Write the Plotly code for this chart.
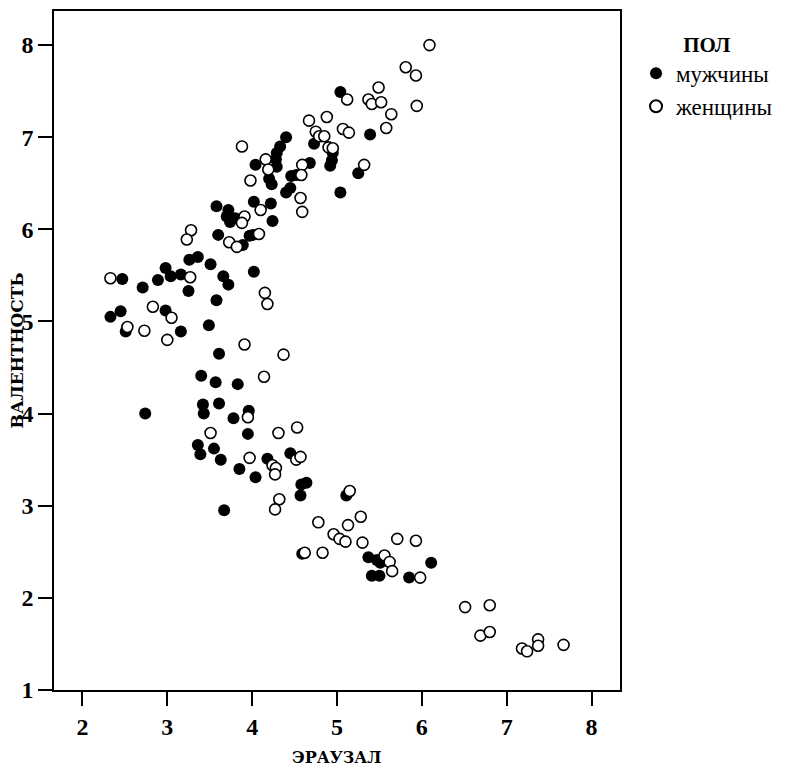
import plotly.graph_objects as go

# ЭРАУЗАЛ (x) / ВАЛЕНТНОСТЬ (y) — мужчины
men_x = [5.04, 5.39, 4.40, 4.73, 4.95, 4.94, 4.92, 4.68, 4.46, 4.52,
         4.40, 4.45, 5.04, 5.25,
         4.33, 4.29, 4.28, 4.29, 4.04, 4.20, 4.23,
         3.58, 3.72, 3.70, 3.74, 3.80, 4.02, 4.22, 4.24,
         3.60, 3.89, 3.97, 4.01,
         3.26, 3.36, 3.51, 2.98, 2.89, 3.04, 3.16, 3.25, 3.66, 3.72, 4.02, 3.58,
         2.47, 2.71, 2.33, 2.45, 2.98, 2.51, 3.16, 3.49,
         3.61, 3.40, 3.57, 3.83, 3.42, 3.43, 3.61, 3.78, 3.96, 3.95, 2.74,
         3.36, 3.39, 3.55, 3.63, 3.85, 4.04, 4.18, 4.45, 4.58, 4.64, 4.57, 3.67, 5.11,
         4.59, 5.37, 5.47, 5.51, 5.41, 5.50, 5.85, 6.11]
men_y = [7.49, 7.03, 7.00, 6.93, 6.83, 6.75, 6.69, 6.72, 6.58, 6.59,
         6.40, 6.45, 6.40, 6.61,
         6.90, 6.83, 6.76, 6.68, 6.70, 6.55, 6.49,
         6.25, 6.21, 6.14, 6.08, 6.12, 6.30, 6.28, 6.09,
         5.94, 5.83, 5.93, 5.94,
         5.67, 5.70, 5.62, 5.58, 5.45, 5.49, 5.51, 5.33, 5.49, 5.40, 5.54, 5.23,
         5.46, 5.37, 5.05, 5.11, 5.12, 4.89, 4.89, 4.96,
         4.65, 4.41, 4.34, 4.32, 4.10, 4.00, 4.11, 3.95, 4.03, 3.78, 4.00,
         3.66, 3.56, 3.62, 3.50, 3.40, 3.31, 3.51, 3.57, 3.23, 3.25, 3.11, 2.95, 3.11,
         2.48, 2.44, 2.41, 2.38, 2.24, 2.24, 2.22, 2.38]

# женщины
women_x = [6.09, 5.81, 5.93, 5.12, 5.49, 5.37, 5.41, 5.52, 5.64, 5.94, 5.58, 5.07, 5.14,
           4.88, 4.67, 4.75, 4.79, 4.85, 4.90, 4.95, 4.59, 4.58, 4.57, 4.59, 5.32,
           3.88, 4.16, 4.19, 3.98,
           3.91, 3.88, 4.10, 3.73, 3.82, 4.08, 3.28, 3.23,
           3.27, 4.15, 4.18, 2.33, 2.83, 3.05, 2.53, 2.73, 3.00, 3.91,
           4.37, 4.14, 3.95, 3.51, 4.31, 4.53, 3.97, 4.24, 4.28, 4.27, 4.52, 4.57, 4.32, 4.27, 5.15,
           4.78, 5.13, 5.28, 4.96, 5.03, 5.10, 5.30, 5.71, 5.93, 4.62, 4.83, 5.56, 5.62, 5.65, 5.98,
           6.51, 6.80, 6.69, 6.80, 7.18, 7.24, 7.37, 7.37, 7.67]
women_y = [8.00, 7.76, 7.67, 7.41, 7.54, 7.41, 7.36, 7.38, 7.25, 7.34, 7.10, 7.09, 7.05,
           7.22, 7.18, 7.06, 7.01, 7.01, 6.89, 6.88, 6.70, 6.59, 6.34, 6.19, 6.70,
           6.90, 6.76, 6.65, 6.53,
           6.14, 6.07, 6.21, 5.86, 5.81, 5.95, 5.99, 5.89,
           5.48, 5.31, 5.19, 5.47, 5.16, 5.04, 4.94, 4.90, 4.80, 4.75,
           4.64, 4.40, 3.96, 3.79, 3.79, 3.85, 3.52, 3.44, 3.41, 3.34, 3.50, 3.53, 3.07, 2.96, 3.16,
           2.82, 2.79, 2.88, 2.69, 2.64, 2.61, 2.60, 2.64, 2.62, 2.49, 2.49, 2.46, 2.39, 2.29, 2.22,
           1.90, 1.92, 1.59, 1.63, 1.45, 1.42, 1.55, 1.48, 1.49]

x_ticks = [2, 3, 4, 5, 6, 7, 8]
y_ticks = [1, 2, 3, 4, 5, 6, 7, 8]
series_names = ["мужчины", "женщины"]
x_title = "ЭРАУЗАЛ"
y_title = "ВАЛЕНТНОСТЬ"
legend_title = "ПОЛ"

SERIF = "Liberation Serif"
SLAB = "DejaVu Serif"

fig = go.Figure()
fig.add_trace(go.Scatter(
    x=men_x, y=men_y, mode="markers", name=series_names[0],
    marker=dict(size=12, color="black", line=dict(width=0)),
))
fig.add_trace(go.Scatter(
    x=women_x, y=women_y, mode="markers", name=series_names[1],
    marker=dict(size=11, color="white", line=dict(width=1.6, color="black")),
))

tickfont = dict(family=SERIF, size=24, color="black")
axis_common = dict(
    showgrid=False, zeroline=False, showline=True, linecolor="black", linewidth=1.6,
    mirror=True, ticks="outside", ticklen=14, tickwidth=1.6, tickcolor="black",
    tickfont=tickfont, automargin=False,
)

fig.update_layout(
    width=790, height=770, autosize=False,
    margin=dict(l=54, r=170, t=11, b=80),
    paper_bgcolor="white", plot_bgcolor="white",
    annotations=[
        dict(x=0.5, y=-0.0987, xref="paper", yref="paper", xanchor="center", yanchor="middle",
             showarrow=False, text=f"<b>{x_title}</b>",
             font=dict(family=SLAB, size=16, color="black")),
        dict(x=-0.0654, y=0.5, xref="paper", yref="paper", xanchor="center", yanchor="middle",
             showarrow=False, textangle=-90, text=f"<b>{y_title}</b>",
             font=dict(family=SLAB, size=17, color="black")),
    ],
    xaxis=dict(range=[1.665, 8.335], tickvals=x_ticks, ticktext=[f"<b>{v}</b>" for v in x_ticks],
               **axis_common),
    yaxis=dict(range=[1, 8.37], tickvals=y_ticks, ticktext=[f"<b>{v}</b>" for v in y_ticks],
               **axis_common),
    legend=dict(
        x=1.0283, y=0.98, xanchor="left", yanchor="top",
        title=dict(text=f"<b>{legend_title}</b>", side="top center",
                   font=dict(family=SERIF, size=21, color="black")),
        font=dict(family=SERIF, size=23, color="black"),
        bgcolor="rgba(0,0,0,0)", itemsizing="constant",
    ),
    showlegend=True,
)

fig.write_html("out.html", config={"displayModeBar": False},
               post_script="document.body.style.margin='0px';")
